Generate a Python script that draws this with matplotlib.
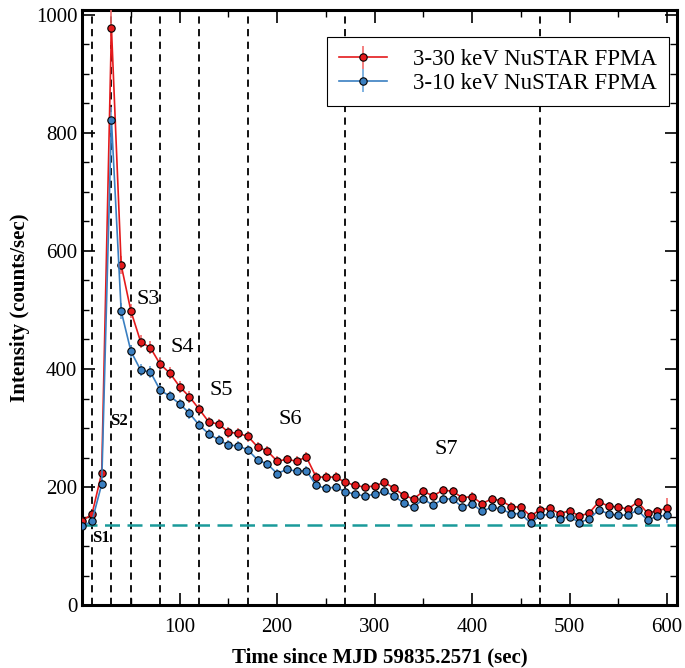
import numpy as np
import matplotlib.pyplot as plt

plt.rcParams['font.family'] = ['Liberation Serif', 'DejaVu Serif']

# time bins (sec)
t = np.arange(0, 610, 10)

# 3-30 keV rate
rate_hard = [143, 154, 224, 978, 576, 498, 446, 436, 408, 393,
             370, 353, 332, 310, 307, 293, 291, 286, 268, 261,
             244, 247, 244, 251, 217, 217, 217, 208, 203, 200,
             202, 208, 198, 186, 180, 193, 185, 195, 193, 182,
             184, 172, 180, 177, 167, 166, 151, 162, 164, 155,
             160, 151, 156, 175, 168, 166, 163, 175, 156, 160,
             164]
# 3-10 keV rate
rate_soft = [134, 142, 205, 822, 498, 430, 398, 395, 364, 354,
             341, 325, 305, 290, 280, 271, 270, 263, 246, 239,
             223, 230, 227, 228, 203, 198, 200, 192, 188, 185,
             188, 193, 185, 173, 166, 180, 169, 180, 180, 166,
             172, 159, 166, 163, 155, 155, 139, 152, 154, 146,
             150, 140, 146, 161, 155, 152, 153, 161, 144, 151,
             152]
err_hard = [6, 6, 8, 30, 15, 12, 11, 11, 10, 10,
            10, 10, 9, 9, 9, 9, 9, 9, 8, 8,
            8, 8, 8, 8, 8, 8, 8, 7, 7, 7,
            7, 7, 7, 7, 7, 7, 7, 7, 7, 7,
            7, 7, 7, 7, 7, 7, 7, 7, 7, 7,
            7, 7, 7, 7, 7, 7, 7, 7, 7, 7,
            18]
err_soft = [6, 6, 8, 22, 13, 11, 10, 10, 9, 9,
            9, 9, 8, 8, 8, 8, 8, 8, 7, 7,
            7, 7, 7, 7, 7, 7, 7, 6, 6, 6,
            6, 6, 6, 6, 6, 6, 6, 6, 6, 6,
            6, 6, 6, 6, 6, 6, 6, 6, 6, 6,
            6, 6, 6, 6, 6, 6, 6, 6, 6, 6,
            12]

# segment boundaries and labels
bounds = [10, 30, 50, 80, 120, 170, 270, 470]
seg_labels = ['S1', 'S2', 'S3', 'S4', 'S5', 'S6', 'S7']
seg_x = [19.5, 38, 68, 103, 143, 213, 373]
seg_y = [113, 312, 517, 436, 364, 315, 264]
baseline = 135

fig = plt.figure(figsize=(6.85, 6.68), dpi=100)
ax = fig.add_axes([0.12, 0.094, 0.868, 0.891])

for b in bounds:
    ax.axvline(b, color='black', ls=(0, (4, 3)), lw=1.3, zorder=1)
ax.axhline(baseline, color='#1a9a9a', ls=(0, (6, 3)), lw=1.8, zorder=1)

ax.errorbar(t, rate_hard, yerr=err_hard, color='#e41a1c', marker='o', ms=5.3,
            mfc='#e41a1c', mec='black', mew=0.8, lw=1.2, elinewidth=1.2,
            ecolor='#f26b6b', label='3-30 keV NuSTAR FPMA', zorder=3)
ax.errorbar(t, rate_soft, yerr=err_soft, color='#3a7fc1', marker='o', ms=5.3,
            mfc='#3a7fc1', mec='black', mew=0.8, lw=1.2, elinewidth=1.2,
            ecolor='#6aa6dc', label='3-10 keV NuSTAR FPMA', zorder=3)

for i, lab in enumerate(seg_labels):
    if i < 2:
        ax.text(seg_x[i], seg_y[i], lab, fontsize=12, fontweight='bold',
                ha='center', va='center')
    else:
        ax.text(seg_x[i], seg_y[i], lab, fontsize=16, ha='center', va='center')

ax.set_xlim(0, 610)
ax.set_ylim(0, 1008)
ax.set_xticks([100, 200, 300, 400, 500, 600])
ax.set_xticks(np.arange(50, 610, 50), minor=True)
ax.set_yticks([0, 200, 400, 600, 800, 1000])
ax.set_yticks(np.arange(0, 1008, 50), minor=True)
ax.tick_params(which='both', direction='in', top=True, right=True, labelsize=15)
ax.tick_params(axis='x', which='major', pad=9)
ax.tick_params(which='major', length=9, width=1.2)
ax.tick_params(which='minor', length=5, width=1.0)
for s in ax.spines.values():
    s.set_linewidth(2.2)

ax.set_xlabel('Time since MJD 59835.2571 (sec)', fontsize=15, fontweight='bold',
              labelpad=8)
ax.set_ylabel('Intensity (counts/sec)', fontsize=15, fontweight='bold')

leg = ax.legend(loc='upper right', bbox_to_anchor=(0.987, 0.955), fontsize=16.5,
                fancybox=False, edgecolor='black', framealpha=1,
                handlelength=2.1, handletextpad=1.1, borderpad=0.55,
                borderaxespad=0, labelspacing=0.1)
leg.get_frame().set_linewidth(0.8)

fig.savefig('out.png', dpi=100)
